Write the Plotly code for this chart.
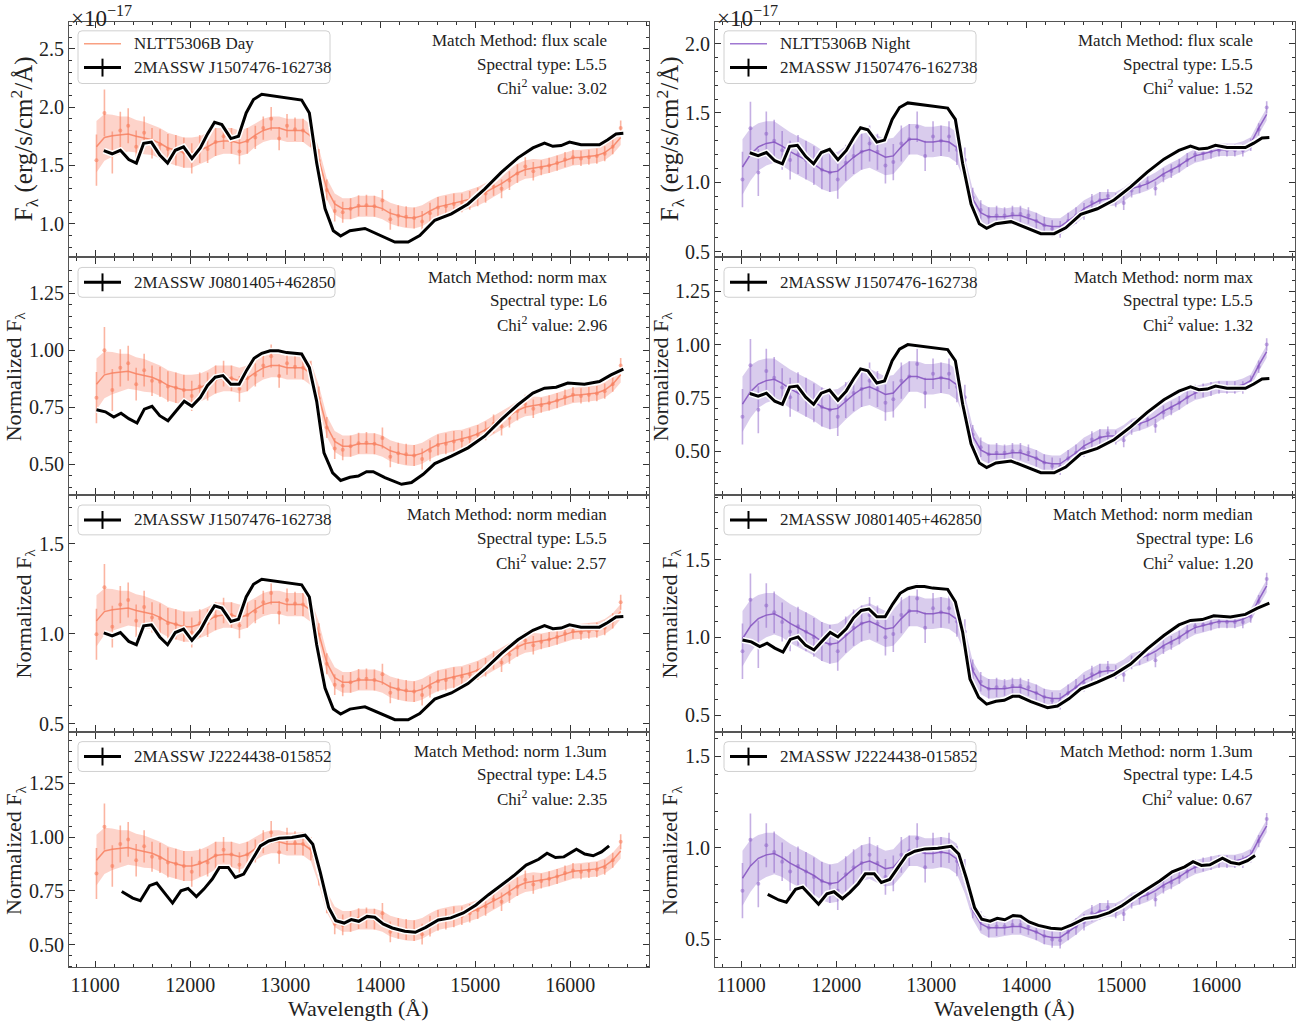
import plotly.graph_objects as go
from plotly.subplots import make_subplots

# ---------------------------------------------------------------- data
# NLTT5306B binned spectrum (flux in units of 1e-17 erg/s/cm2/A)
wavelength = [11014, 11098, 11181, 11265, 11348, 11432, 11516, 11599, 11683, 11766,
              11850, 11934, 12017, 12101, 12184, 12268, 12352, 12435, 12519, 12602,
              12686, 12770, 12853, 12937, 13020, 13104, 13188, 13271, 13355, 13438,
              13522, 13606, 13689, 13773, 13856, 13940, 14024, 14107, 14191, 14274,
              14358, 14442, 14525, 14609, 14692, 14776, 14860, 14943, 15027, 15110,
              15194, 15278, 15361, 15445, 15528, 15612, 15696, 15779, 15863, 15946,
              16030, 16114, 16197, 16281, 16364, 16448, 16532]

day_flux = [1.545, 1.95, 1.61, 1.80, 1.84, 1.66, 1.78, 1.69, 1.68, 1.64,
            1.63, 1.61, 1.56, 1.64, 1.64, 1.70, 1.75, 1.71, 1.62, 1.71,
            1.74, 1.82, 1.90, 1.73, 1.84, 1.81, 1.80, 1.76, 1.54, 1.29,
            1.11, 1.10, 1.13, 1.155, 1.16, 1.15, 1.20, 1.04, 1.07, 1.06,
            1.05, 1.02, 1.09, 1.14, 1.15, 1.17, 1.18, 1.20, 1.23, 1.26,
            1.32, 1.30, 1.37, 1.43, 1.49, 1.45, 1.48, 1.50, 1.52, 1.55,
            1.57, 1.56, 1.57, 1.58, 1.60, 1.66, 1.82]
day_smooth = [1.66, 1.74, 1.755, 1.76, 1.77, 1.75, 1.735, 1.72, 1.69, 1.65,
              1.63, 1.61, 1.61, 1.63, 1.66, 1.70, 1.71, 1.71, 1.69, 1.71,
              1.76, 1.80, 1.82, 1.82, 1.80, 1.80, 1.80, 1.75, 1.55, 1.30,
              1.17, 1.13, 1.13, 1.15, 1.15, 1.15, 1.13, 1.09, 1.07, 1.055,
              1.05, 1.07, 1.11, 1.145, 1.16, 1.175, 1.19, 1.21, 1.235, 1.27,
              1.31, 1.345, 1.39, 1.435, 1.465, 1.475, 1.485, 1.50, 1.52, 1.545,
              1.565, 1.57, 1.575, 1.585, 1.61, 1.66, 1.74]
day_err = [0.22, 0.20, 0.18, 0.16, 0.15, 0.14, 0.14, 0.13, 0.13, 0.13,
           0.13, 0.13, 0.13, 0.12, 0.12, 0.12, 0.11, 0.11, 0.11, 0.11,
           0.10, 0.10, 0.10, 0.10, 0.10, 0.10, 0.10, 0.10, 0.10, 0.09,
           0.09, 0.09, 0.09, 0.09, 0.09, 0.09, 0.09, 0.09, 0.09, 0.09,
           0.09, 0.09, 0.09, 0.09, 0.09, 0.09, 0.08, 0.08, 0.08, 0.08,
           0.08, 0.08, 0.08, 0.08, 0.08, 0.08, 0.065, 0.065, 0.065, 0.065,
           0.065, 0.065, 0.065, 0.065, 0.065, 0.065, 0.065]

night_flux = [1.02, 1.39, 1.07, 1.35, 1.30, 1.23, 1.16, 1.20, 1.16, 1.12,
              1.09, 1.07, 1.02, 1.14, 1.19, 1.22, 1.28, 1.22, 1.12, 1.145,
              1.28, 1.31, 1.40, 1.19, 1.33, 1.30, 1.33, 1.235, 1.16, 0.89,
              0.80, 0.75, 0.76, 0.76, 0.77, 0.77, 0.76, 0.72, 0.69, 0.665,
              0.66, 0.72, 0.76, 0.79, 0.855, 0.87, 0.90, 0.87, 0.85, 0.94,
              0.97, 1.00, 0.955, 1.05, 1.08, 1.12, 1.16, 1.20, 1.21, 1.22,
              1.23, 1.23, 1.23, 1.23, 1.27, 1.38, 1.54]
night_smooth = [1.11, 1.20, 1.255, 1.28, 1.29, 1.26, 1.22, 1.19, 1.16, 1.13,
                1.09, 1.07, 1.08, 1.13, 1.18, 1.22, 1.235, 1.21, 1.18, 1.19,
                1.255, 1.31, 1.31, 1.29, 1.29, 1.30, 1.29, 1.25, 1.09, 0.88,
                0.78, 0.75, 0.75, 0.75, 0.76, 0.76, 0.74, 0.72, 0.69, 0.68,
                0.68, 0.72, 0.76, 0.81, 0.84, 0.87, 0.88, 0.88, 0.91, 0.955,
                0.97, 0.99, 1.02, 1.06, 1.09, 1.12, 1.16, 1.19, 1.205, 1.22,
                1.235, 1.235, 1.235, 1.25, 1.28, 1.39, 1.49]
night_err = [0.20, 0.19, 0.17, 0.16, 0.15, 0.14, 0.14, 0.14, 0.14, 0.14,
             0.14, 0.14, 0.14, 0.13, 0.13, 0.13, 0.13, 0.13, 0.13, 0.13,
             0.13, 0.11, 0.11, 0.11, 0.11, 0.11, 0.11, 0.11, 0.09, 0.07,
             0.07, 0.07, 0.07, 0.06, 0.06, 0.06, 0.06, 0.06, 0.06, 0.06,
             0.06, 0.06, 0.06, 0.06, 0.06, 0.06, 0.05, 0.05, 0.05, 0.05,
             0.05, 0.05, 0.05, 0.05, 0.05, 0.05, 0.05, 0.05, 0.05, 0.05,
             0.045, 0.045, 0.045, 0.045, 0.045, 0.045, 0.045]

# Standard templates
j1507_wl = [11091, 11179, 11266, 11354, 11434, 11511, 11592, 11680, 11763, 11844,
            11931, 12019, 12107, 12183, 12257, 12334, 12429, 12509, 12590, 12667,
            12754, 12947, 13104, 13174, 13255, 13332, 13420, 13507, 13584, 13682,
            13840, 13980, 14155, 14295, 14417, 14575, 14750, 14925, 15100, 15275,
            15450, 15608, 15730, 15818, 15905, 15993, 16115, 16308, 16396, 16483,
            16560]
j1507_flux = [1.627, 1.60, 1.63, 1.55, 1.52, 1.69, 1.70, 1.59, 1.52, 1.63,
              1.66, 1.56, 1.65, 1.77, 1.87, 1.85, 1.73, 1.75, 1.95, 2.065,
              2.11, 2.09, 2.07, 2.06, 1.95, 1.52, 1.13, 0.94, 0.895, 0.94,
              0.96, 0.906, 0.844, 0.844, 0.90, 1.03, 1.085, 1.17, 1.297, 1.44,
              1.565, 1.65, 1.692, 1.664, 1.67, 1.70, 1.678, 1.678, 1.72, 1.77,
              1.775]

j0801_wl = [11014, 11108, 11196, 11273, 11354, 11441, 11518, 11599, 11680, 11767,
            11854, 11938, 12019, 12107, 12183, 12264, 12345, 12429, 12516, 12597,
            12673, 12754, 12842, 12929, 13017, 13174, 13255, 13332, 13409, 13500,
            13584, 13682, 13770, 13857, 13927, 14050, 14225, 14330, 14453, 14575,
            14750, 14925, 15100, 15275, 15450, 15608, 15730, 15853, 15975, 16150,
            16308, 16430, 16560]
j0801_flux = [0.739, 0.73, 0.707, 0.724, 0.70, 0.681, 0.742, 0.754, 0.713, 0.691,
              0.735, 0.776, 0.754, 0.793, 0.846, 0.882, 0.889, 0.851, 0.851, 0.914,
              0.965, 0.987, 0.998, 0.998, 0.99, 0.984, 0.924, 0.776, 0.55, 0.462,
              0.429, 0.443, 0.448, 0.467, 0.467, 0.441, 0.412, 0.42, 0.456, 0.503,
              0.536, 0.572, 0.623, 0.696, 0.761, 0.812, 0.834, 0.838, 0.856, 0.851,
              0.863, 0.892, 0.917]

j2224_wl = [11280, 11396, 11476, 11573, 11648, 11727, 11815, 11903, 11978, 12066,
            12145, 12233, 12308, 12401, 12476, 12564, 12652, 12740, 12828, 12938,
            13070, 13211, 13291, 13370, 13458, 13533, 13621, 13696, 13775, 13863,
            13943, 14031, 14128, 14260, 14370, 14480, 14612, 14744, 14876, 15009,
            15141, 15273, 15405, 15537, 15669, 15757, 15845, 15934, 16066, 16154,
            16242, 16330, 16410]
j2224_flux = [0.747, 0.716, 0.704, 0.774, 0.786, 0.743, 0.693, 0.75, 0.761, 0.723,
              0.758, 0.805, 0.859, 0.859, 0.812, 0.828, 0.897, 0.959, 0.982, 0.995,
              0.998, 1.009, 0.967, 0.836, 0.673, 0.611, 0.60, 0.616, 0.608, 0.631,
              0.627, 0.596, 0.577, 0.562, 0.557, 0.58, 0.614, 0.624, 0.647, 0.684,
              0.732, 0.777, 0.82, 0.87, 0.897, 0.925, 0.905, 0.908, 0.944, 0.921,
              0.913, 0.931, 0.959]

templates = {
    "2MASSW J1507476-162738": (j1507_wl, j1507_flux),
    "2MASSW J0801405+462850": (j0801_wl, j0801_flux),
    "2MASSW J2224438-015852": (j2224_wl, j2224_flux),
}

# normalisation constants of the target for each matching method
day_norm = {"flux scale": 1.0, "norm max": 1.95, "norm median": 1.55, "norm 1.3um": 1.86}
night_norm = {"flux scale": 1.0, "norm max": 1.54, "norm median": 1.12, "norm 1.3um": 1.33}

# (row, col, template, method, spectral type, chi2, template divisor, y range, y dtick)
panels = [
    (1, 1, "2MASSW J1507476-162738", "flux scale", "L5.5", "3.02", 1.0, [0.72, 2.73], 0.5),
    (2, 1, "2MASSW J0801405+462850", "norm max", "L6", "2.96", 1.0, [0.369, 1.403], 0.25),
    (3, 1, "2MASSW J1507476-162738", "norm median", "L5.5", "2.57", 1.62, [0.46, 1.765], 0.5),
    (4, 1, "2MASSW J2224438-015852", "norm 1.3um", "L4.5", "2.35", 1.0, [0.394, 1.486], 0.25),
    (1, 2, "2MASSW J1507476-162738", "flux scale", "L5.5", "1.52", 1.342, [0.464, 2.157], 0.5),
    (2, 2, "2MASSW J1507476-162738", "norm max", "L5.5", "1.32", 2.11, [0.30, 1.403], 0.25),
    (3, 2, "2MASSW J0801405+462850", "norm median", "L6", "1.20", 0.752, [0.40, 1.908], 0.5),
    (4, 2, "2MASSW J2224438-015852", "norm 1.3um", "L4.5", "0.67", 1.0, [0.348, 1.63], 0.5),
]

# ---------------------------------------------------------------- styling
W, H = 1308, 1027
FONT = "Liberation Serif"
col_x = {1: (69, 649), 2: (715, 1295)}
row_y = {1: (22, 258), 2: (260, 497), 3: (499, 735), 4: (737, 973)}

target_style = {
    1: dict(name="NLTT5306B Day", flux=day_flux, smooth=day_smooth, err=day_err, norm=day_norm,
            line="rgba(247,128,96,0.85)", pts="rgba(248,120,85,0.55)",
            band="rgba(250,140,115,0.38)", legend="rgba(249,160,130,1)"),
    2: dict(name="NLTT5306B Night", flux=night_flux, smooth=night_smooth, err=night_err, norm=night_norm,
            line="rgba(130,80,190,0.85)", pts="rgba(140,95,200,0.5)",
            band="rgba(150,115,205,0.36)", legend="rgba(160,120,210,1)"),
}


def px(x):
    return x / W


def py(y):
    return 1 - y / H


fig = make_subplots(rows=4, cols=2)

shapes = []
annotations = []

for row, col, tname, method, sptype, chi, tdiv, yr, dt in panels:
    st = target_style[col]
    nrm = st["norm"][method]
    flux = [v / nrm for v in st["flux"]]
    smooth = [v / nrm for v in st["smooth"]]
    err = [v / nrm for v in st["err"]]
    upper = [s + e for s, e in zip(smooth, err)]
    lower = [s - e for s, e in zip(smooth, err)]

    fig.add_trace(go.Scatter(x=wavelength, y=upper, mode="lines", line=dict(width=0),
                             hoverinfo="skip", showlegend=False), row=row, col=col)
    fig.add_trace(go.Scatter(x=wavelength, y=lower, mode="lines", line=dict(width=0),
                             fill="tonexty", fillcolor=st["band"], hoverinfo="skip",
                             showlegend=False), row=row, col=col)
    fig.add_trace(go.Scatter(x=wavelength, y=flux, mode="markers",
                             marker=dict(size=4, color=st["pts"]),
                             error_y=dict(type="data", array=err, color=st["pts"],
                                          thickness=1.6, width=0),
                             showlegend=False), row=row, col=col)
    fig.add_trace(go.Scatter(x=wavelength, y=smooth, mode="lines",
                             line=dict(color=st["line"], width=1.5), showlegend=False),
                  row=row, col=col)

    twl, tfl = templates[tname]
    tvals = [v / tdiv for v in tfl]
    fig.add_trace(go.Scatter(x=twl, y=tvals, mode="lines",
                             line=dict(color="white", width=6), showlegend=False),
                  row=row, col=col)
    fig.add_trace(go.Scatter(x=twl, y=tvals, mode="lines",
                             line=dict(color="black", width=3), showlegend=False),
                  row=row, col=col)

    idx = (row - 1) * 2 + col
    xk = "xaxis" if idx == 1 else f"xaxis{idx}"
    yk = "yaxis" if idx == 1 else f"yaxis{idx}"
    x0, x1 = col_x[col]
    y0, y1 = row_y[row]
    fig.layout[xk].update(
        domain=[px(x0), px(x1)], range=[10725, 16830],
        tickmode="linear", tick0=11000, dtick=1000, tickformat="d",
        ticks="inside", ticklen=6, tickwidth=1, tickcolor="#333",
        minor=dict(ticks="inside", ticklen=3, tickwidth=1, tickcolor="#333", dtick=200, tick0=11000),
        showline=True, linecolor="#555", linewidth=1, mirror="ticks",
        showgrid=False, zeroline=False, showticklabels=(row == 4),
        tickfont=dict(family=FONT, size=20, color="#222"),
    )
    fig.layout[yk].update(
        domain=[py(y1), py(y0)], range=yr,
        tickmode="linear", tick0=0, dtick=dt,
        tickformat=".1f" if dt == 0.5 else ".2f",
        ticks="inside", ticklen=6, tickwidth=1, tickcolor="#333",
        minor=dict(ticks="inside", ticklen=3, tickwidth=1, tickcolor="#333", dtick=dt / 5, tick0=0),
        showline=True, linecolor="#555", linewidth=1, mirror="ticks",
        showgrid=False, zeroline=False,
        tickfont=dict(family=FONT, size=20, color="#222"),
    )

    # legend box drawn by hand
    lx0 = x0 + 9
    ly0 = y0 + 9
    two = row == 1
    lx1 = lx0 + (252 if tname != "2MASSW J0801405+462850" else 257)
    ly1 = ly0 + (53 if two else 30)
    r = 4
    path = (f"M {px(lx0 + r)} {py(ly0)} L {px(lx1 - r)} {py(ly0)} "
            f"Q {px(lx1)} {py(ly0)} {px(lx1)} {py(ly0 + r)} "
            f"L {px(lx1)} {py(ly1 - r)} Q {px(lx1)} {py(ly1)} {px(lx1 - r)} {py(ly1)} "
            f"L {px(lx0 + r)} {py(ly1)} Q {px(lx0)} {py(ly1)} {px(lx0)} {py(ly1 - r)} "
            f"L {px(lx0)} {py(ly0 + r)} Q {px(lx0)} {py(ly0)} {px(lx0 + r)} {py(ly0)} Z")
    shapes.append(dict(type="path", path=path, xref="paper", yref="paper", layer="above",
                       fillcolor="rgba(255,255,255,0.85)", line=dict(color="#d0d0d0", width=1)))
    entries = []
    if two:
        entries.append((st["name"], "target", ly0 + 13))
        entries.append((tname, "template", ly0 + 37))
    else:
        entries.append((tname, "template", ly0 + 15))
    for label, kind, ey in entries:
        hx0, hx1 = lx0 + 6, lx0 + 43
        if kind == "target":
            shapes.append(dict(type="line", xref="paper", yref="paper", layer="above",
                               x0=px(hx0), x1=px(hx1), y0=py(ey), y1=py(ey),
                               line=dict(color=st["legend"], width=1.5)))
        else:
            shapes.append(dict(type="line", xref="paper", yref="paper", layer="above",
                               x0=px(hx0), x1=px(hx1), y0=py(ey), y1=py(ey),
                               line=dict(color="black", width=3)))
            hc = (hx0 + hx1) / 2
            shapes.append(dict(type="line", xref="paper", yref="paper", layer="above",
                               x0=px(hc), x1=px(hc), y0=py(ey - 9), y1=py(ey + 9),
                               line=dict(color="black", width=2)))
        annotations.append(dict(text=label, x=px(lx0 + 54), y=py(ey), xref="paper", yref="paper",
                                xanchor="left", yanchor="middle", showarrow=False,
                                font=dict(family=FONT, size=17, color="#222")))

    # match information
    tx = x1 - 40
    info = [f"Match Method: {method}", f"Spectral type: {sptype}", f"Chi<sup>2</sup> value: {chi}"]
    for i, t in enumerate(info):
        annotations.append(dict(text=t, x=px(tx), y=py(y0 + 19 + 23.5 * i), xref="paper", yref="paper",
                                xanchor="right", yanchor="middle", showarrow=False,
                                font=dict(family=FONT, size=17, color="#222")))

    # y axis title
    if row == 1:
        ytitle = "F<sub>λ</sub> (erg/s/cm<sup>2</sup>/Å)"
        tsize = 25
    else:
        ytitle = "Normalized F<sub>λ</sub>"
        tsize = 22
    title_x = {(1, 1): 24, (2, 1): 15, (3, 1): 25, (4, 1): 15,
               (1, 2): 670, (2, 2): 662, (3, 2): 671, (4, 2): 671}[(row, col)]
    annotations.append(dict(text=ytitle, x=px(title_x), y=py((y0 + y1) / 2), xref="paper", yref="paper",
                            xanchor="center", yanchor="middle", textangle=-90, showarrow=False,
                            font=dict(family=FONT, size=tsize, color="#222")))

# column-level labels
for col in (1, 2):
    x0, x1 = col_x[col]
    annotations.append(dict(text="×10<sup>−17</sup>", x=px(x0), y=py(0), xref="paper", yref="paper",
                            xanchor="left", yanchor="top", showarrow=False,
                            font=dict(family=FONT, size=23, color="#222")))
    annotations.append(dict(text="Wavelength (Å)", x=px((x0 + x1) / 2 - 1), y=py(1014), xref="paper",
                            yref="paper", xanchor="center", yanchor="middle", showarrow=False,
                            font=dict(family=FONT, size=22, color="#222")))

fig.update_layout(
    width=W, height=H,
    margin=dict(l=0, r=0, t=0, b=0),
    paper_bgcolor="white", plot_bgcolor="white",
    showlegend=False,
    shapes=shapes, annotations=annotations,
    font=dict(family=FONT, color="#222"),
)

fig.write_html("out.html")
